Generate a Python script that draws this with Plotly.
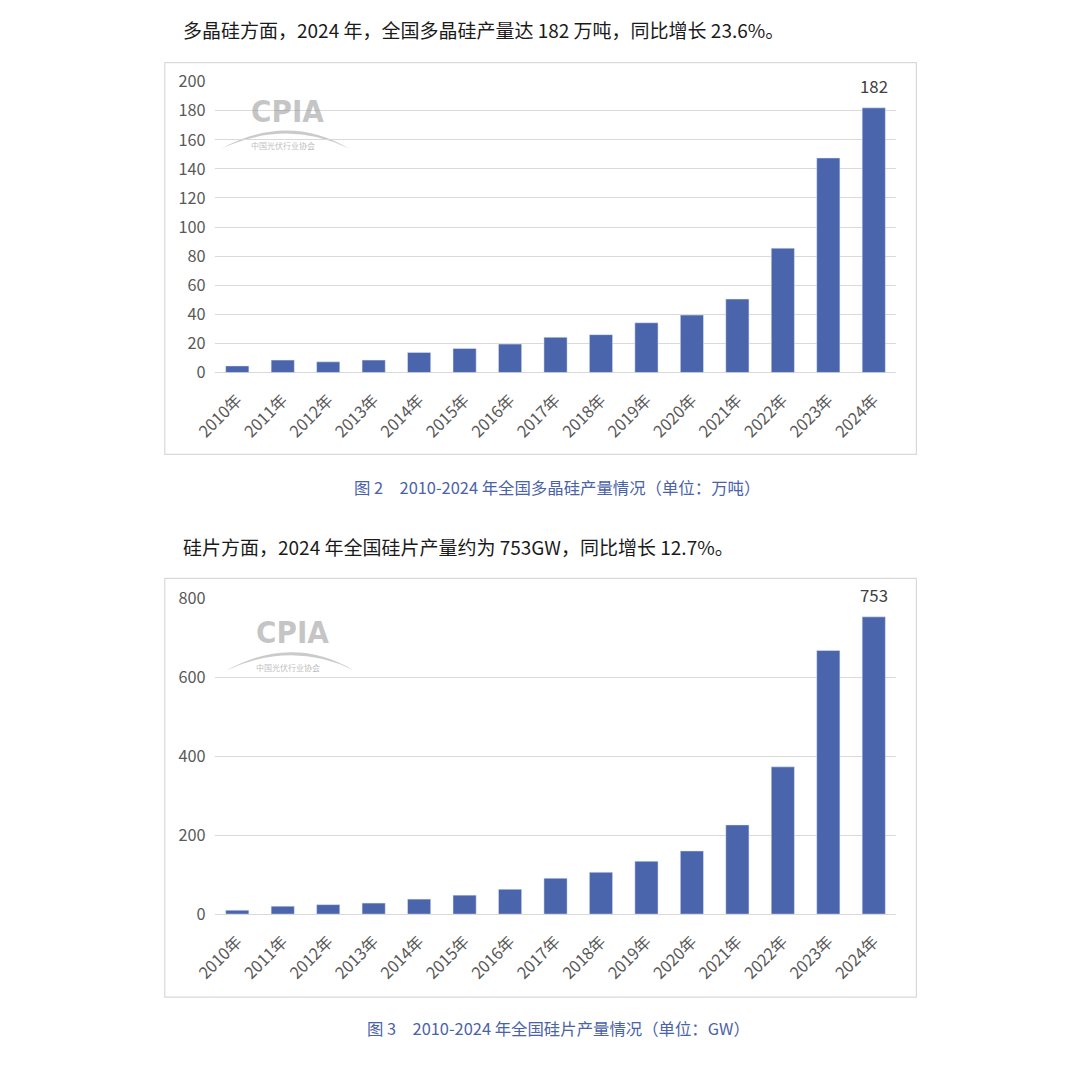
import plotly.graph_objects as go

W, H = 1080, 1089

years = ["2010年", "2011年", "2012年", "2013年", "2014年", "2015年", "2016年", "2017年",
         "2018年", "2019年", "2020年", "2021年", "2022年", "2023年", "2024年"]
polysilicon = [4.5, 8.5, 7.3, 8.5, 13.8, 16.5, 19.5, 24.2, 26.0, 34.2, 39.5, 50.5, 85.5, 147.5, 182]
wafer = [10, 20, 24, 28, 38, 48, 63, 91, 106, 134, 160, 226, 373, 668, 753]

para1 = "多晶硅方面，2024 年，全国多晶硅产量达 182 万吨，同比增长 23.6%。"
para2 = "硅片方面，2024 年全国硅片产量约为 753GW，同比增长 12.7%。"
cap1 = "图 2　2010-2024 年全国多晶硅产量情况（单位：万吨）"
cap2 = "图 3　2010-2024 年全国硅片产量情况（单位：GW）"

FONT = "Noto Sans CJK SC, Noto Sans, sans-serif"
BAR = "#4a65ac"
GRID = "#d9d9d9"
TICK = "#595959"
CAP = "#4a62a8"

# compensation for the capture transform observed in the renderer
SX, BX, SY, BY = 0.984, 17.6, 0.9786, 12.3


def px(x):
    return ((x - BX) / SX) / W


def py(y):
    return 1 - ((y - BY) / SY) / H


def fs(s):
    return round(s / SX, 1)


fig = go.Figure()
fig.add_trace(go.Bar(x=years, y=polysilicon, marker_color=BAR, xaxis="x", yaxis="y",
                     hoverinfo="x+y"))
fig.add_trace(go.Bar(x=years, y=wafer, marker_color=BAR, xaxis="x2", yaxis="y2",
                     hoverinfo="x+y"))

xdom = [px(211), px(896)]
xcommon = dict(domain=xdom, tickangle=-45, tickfont=dict(size=fs(16), color=TICK, family=FONT),
               showgrid=False, showline=False, ticks="", fixedrange=True, ticklabelstandoff=14)
ycommon = dict(tickfont=dict(size=fs(16), color=TICK, family=FONT), gridcolor=GRID, gridwidth=1,
               zeroline=True, zerolinecolor=GRID, zerolinewidth=1, showline=False,
               ticks="", fixedrange=True, ticklabelstandoff=8)

fig.update_layout(
    width=W, height=H, margin=dict(l=0, r=0, t=0, b=0),
    paper_bgcolor="white", plot_bgcolor="white", showlegend=False,
    bargap=0.49, font=dict(family=FONT),
    xaxis=dict(anchor="y", **xcommon),
    yaxis=dict(anchor="x", domain=[py(372), py(81)], range=[0, 200], dtick=20, **ycommon),
    xaxis2=dict(anchor="y2", **xcommon),
    yaxis2=dict(anchor="x2", domain=[py(914), py(598)], range=[0, 800], dtick=200, **ycommon),
)

shapes = [
    dict(type="rect", xref="paper", yref="paper", x0=px(161), x1=px(916), y0=py(454), y1=py(62),
         line=dict(color=GRID, width=1.2), fillcolor="rgba(0,0,0,0)", layer="below"),
    dict(type="rect", xref="paper", yref="paper", x0=px(161), x1=px(916), y0=py(997), y1=py(578),
         line=dict(color=GRID, width=1.2), fillcolor="rgba(0,0,0,0)", layer="below"),
]

annotations = [
    dict(text=para1, x=px(177), y=py(29), xref="paper", yref="paper", xanchor="left",
         yanchor="middle", showarrow=False, font=dict(size=fs(18.7), color="#1a1a1a", family=FONT)),
    dict(text=para2, x=px(177), y=py(546), xref="paper", yref="paper", xanchor="left",
         yanchor="middle", showarrow=False, font=dict(size=fs(18.7), color="#1a1a1a", family=FONT)),
    dict(text=cap1, x=px(555), y=py(487), xref="paper", yref="paper", xanchor="center",
         yanchor="middle", showarrow=False, font=dict(size=fs(16.1), color=CAP, family=FONT)),
    dict(text=cap2, x=px(556), y=py(1028), xref="paper", yref="paper", xanchor="center",
         yanchor="middle", showarrow=False, font=dict(size=fs(16.1), color=CAP, family=FONT)),
    dict(text=str(polysilicon[-1]), x=years[-1], y=polysilicon[-1], xref="x", yref="y",
         yanchor="bottom", yshift=8, showarrow=False, font=dict(size=fs(16.5), color="#404040", family=FONT)),
    dict(text=str(wafer[-1]), x=years[-1], y=wafer[-1], xref="x2", yref="y2",
         yanchor="bottom", yshift=8, showarrow=False, font=dict(size=fs(16.5), color="#404040", family=FONT)),
]

# CPIA watermark logos (decorative)
for (cx, cy) in [(284, 110), (289, 632)]:
    annotations.append(dict(text="<b>CPIA</b>", x=px(cx), y=py(cy), xref="paper", yref="paper",
                            xanchor="center", yanchor="middle", showarrow=False,
                            font=dict(size=31, color="rgba(140,140,140,0.5)",
                                      family="DejaVu Sans Condensed, Liberation Sans Narrow, sans-serif")))
    annotations.append(dict(text="中国光伏行业协会", x=px(cx - 4), y=py(cy + 35), xref="paper",
                            yref="paper", xanchor="center", yanchor="middle", showarrow=False,
                            font=dict(size=8, color="rgba(140,140,140,0.6)", family=FONT)))
    x0, x1, ty, by = cx - 66, cx + 62, cy + 18, cy + 38
    shapes.append(dict(type="path", xref="paper", yref="paper",
                       path=f"M {px(x0)},{py(by)} Q {px(cx)},{py(ty - 16)} {px(x1)},{py(by)}"
                            f" Q {px(cx)},{py(ty - 10)} {px(x0)},{py(by)} Z",
                       line=dict(width=0), fillcolor="rgba(150,150,150,0.5)", layer="below"))

fig.update_layout(shapes=shapes, annotations=annotations)

fig.write_html("out.html", config={"displayModeBar": False},
               post_script="document.body.style.margin='0';document.body.style.overflow='hidden';")
